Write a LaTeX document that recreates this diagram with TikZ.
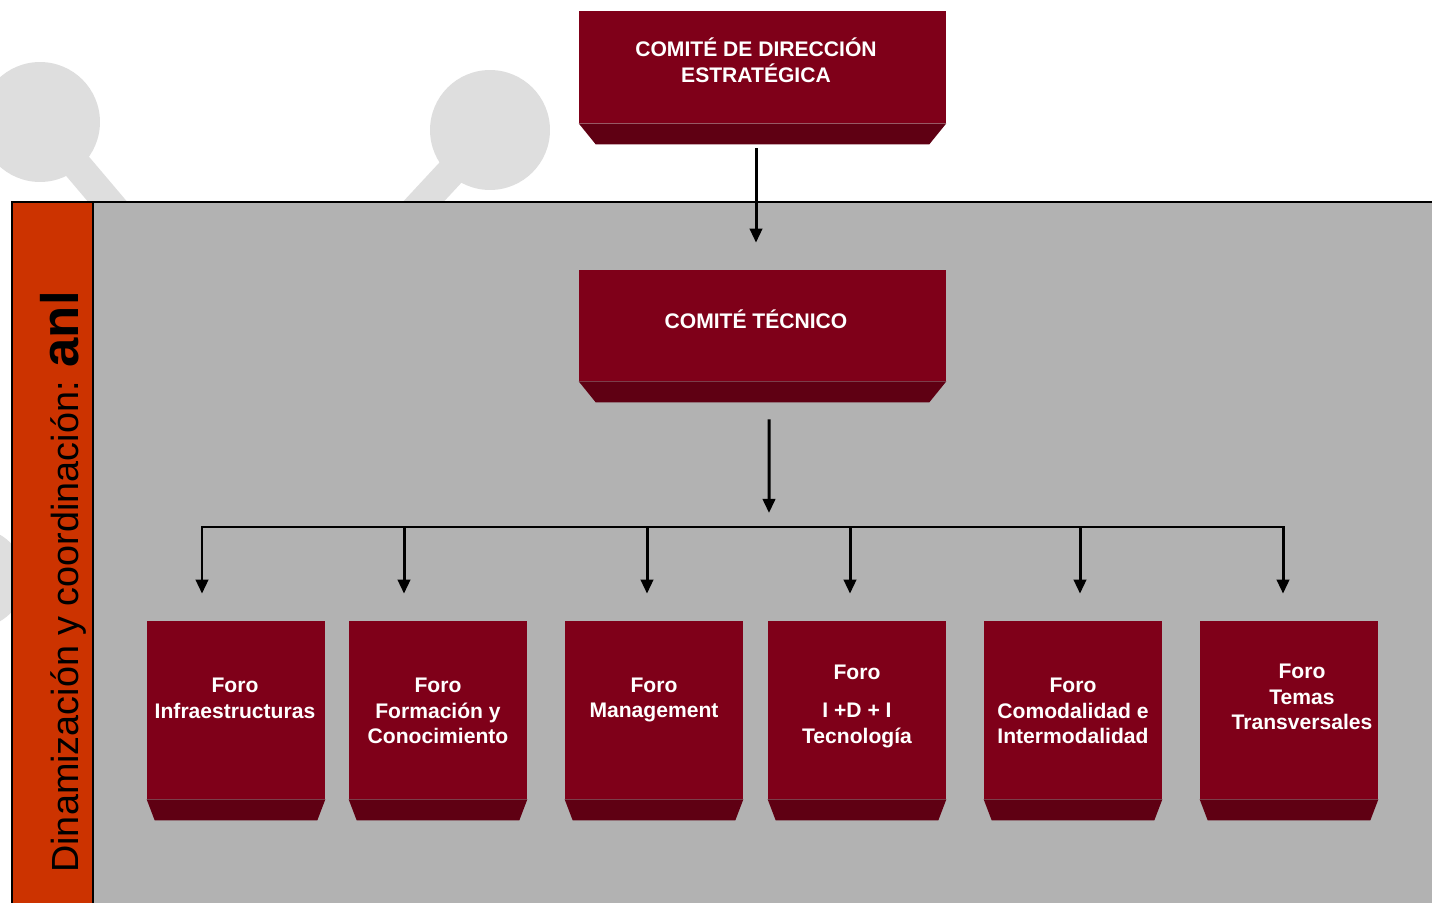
\documentclass[tikz,border=0pt]{standalone}
\usepackage{fontspec}
\setmainfont{Liberation Sans}
\usetikzlibrary{arrows.meta,calc}
\definecolor{granate}{HTML}{7F0019}
\definecolor{granateosc}{HTML}{5F0013}
\definecolor{naranja}{HTML}{CC3300}
\definecolor{fondo}{HTML}{B2B2B2}
\definecolor{adorno}{HTML}{DEDEDE}
\begin{document}
\begin{tikzpicture}[x=0.02cm,y=-0.02cm,
  caja/.style={fill=granate, inner sep=0pt, minimum width=3.56cm, minimum height=3.56cm},
  comite/.style={caja, minimum width=7.34cm, minimum height=2.24cm},
  txt/.style={text=white, font=\bfseries\fontsize{12}{14.7}\selectfont, align=center},
  flecha/.style={line width=1.7pt, -{Triangle[length=8pt,width=7pt]}},
  bus/.style={line width=1.7pt, line cap=rect}]
\useasboundingbox (0,0) rectangle (1432,902);
% adorno de fondo
\draw[adorno, line width=17pt] (40,122) -- (118,214);
\draw[adorno, line width=17pt] (490,130) -- (412,214);
\fill[adorno] (40,122) circle (1.2cm);
\fill[adorno] (490,130) circle (1.2cm);
\fill[adorno] (-25,578) circle (1cm);
% panel y barra
\draw[fill=fondo, line width=1pt] (12,202) rectangle (1450,920);
\draw[fill=naranja, line width=1pt] (12,202) rectangle (93,920);
\node[rotate=90, anchor=base west, inner sep=0pt, font=\fontsize{21.5}{26}\selectfont] (lema) at (78,873)
  {Dinamización y coordinación: {\bfseries\fontsize{30}{36}\selectfont anl}};
% comites
\node[comite] (direccion) at (762.5,67) {};
\node[comite, minimum height=2.22cm] (tecnico) at (762.5,325.5) {};
% foros
\node[caja] (infra) at (236,710) {};
\node[caja] (formacion) at (438,710) {};
\node[caja] (management) at (654,710) {};
\node[caja] (idi) at (857,710) {};
\node[caja] (comodalidad) at (1073,710) {};
\node[caja] (temas) at (1289,710) {};
\foreach \n/\d in {direccion/17,tecnico/17,infra/8,formacion/8,management/8,idi/8,comodalidad/8,temas/8}
  \fill[granateosc] (\n.south west) -- (\n.south east) -- ++(-\d,21) -- ($(\n.south west)+(\d,21)$) -- cycle;
% textos
\node[txt] (direcciontxt) at (756,60) {COMITÉ DE DIRECCIÓN\\ESTRATÉGICA};
\node[txt] (tecnicotxt) at (756,319) {COMITÉ TÉCNICO};
\node[txt] (infratxt) at (235,698) {Foro\\Infraestructuras};
\node[txt] (formaciontxt) at (438,711) {Foro\\Formación y\\Conocimiento};
\node[txt] (managementtxt) at (654,700) {Foro\\Management};
\node[txt] (iditxt) at (857,706) {Foro\\[7pt]I +D + I\\Tecnología};
\node[txt] (comodalidadtxt) at (1073,711) {Foro\\Comodalidad e\\Intermodalidad};
\node[txt] (temastxt) at (1302,697) {Foro\\Temas\\Transversales};
% conectores
\draw[flecha] ($(direccion.south)+(-6.5,25)$) -- ($(tecnico.north)+(-6.5,-27)$);
\coordinate (nudo) at (769,527);
\draw[flecha] ($(tecnico.south)+(6.5,38)$) -- ($(nudo)+(0,-14)$);
\coordinate (b1) at (202,527);
\coordinate (b2) at (404,527);
\coordinate (b3) at (647,527);
\coordinate (b4) at (850,527);
\coordinate (b5) at (1080,527);
\coordinate (b6) at (1283,527);
\draw[bus] (b1) -- (b6);
\foreach \b/\n in {b1/infra,b2/formacion,b3/management,b4/idi,b5/comodalidad,b6/temas}
  \draw[flecha] (\b) -- ($(\b |- \n.north)+(0,-27)$);
\end{tikzpicture}
\end{document}
